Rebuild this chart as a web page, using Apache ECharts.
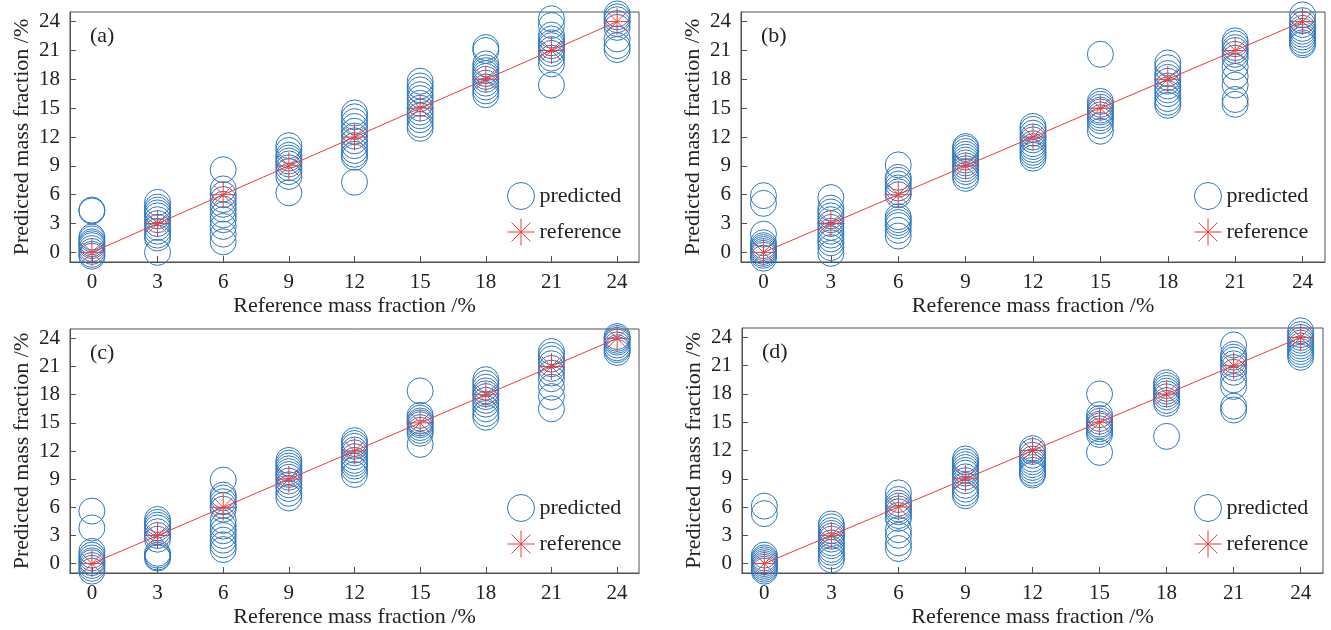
<!DOCTYPE html>
<html>
<head>
<meta charset="utf-8">
<title>Predicted vs reference mass fraction</title>
<script src="https://cdn.jsdelivr.net/npm/echarts@6/dist/echarts.min.js"></script>
<style>
  html, body { margin: 0; padding: 0; background: #fff; }
  #main { width: 1331px; height: 630px; }
</style>
</head>
<body>
<div id="main"></div>
<script>
// reference mass fractions (x) and axis ticks
var xRef = [0, 3, 6, 9, 12, 15, 18, 21, 24];
var tickVals = [0, 3, 6, 9, 12, 15, 18, 21, 24];
var panelNames = ['(a)', '(b)', '(c)', '(d)'];

// predicted values, one list per reference level
var predA = [
    [4.4, 4.3, 1.6, 1.4, 1.1, 0.9, 0.7, 0.4, 0.1, -0.2, -0.4],
    [5.2, 4.7, 4.4, 4.1, 3.8, 3.4, 3.0, 2.6, 2.2, 1.8, 1.5, 0.0],
    [8.6, 6.6, 6.0, 5.5, 5.0, 4.5, 3.9, 3.4, 2.7, 1.9, 1.1],
    [11.1, 10.6, 10.1, 9.8, 9.5, 9.2, 8.8, 8.4, 7.9, 6.2],
    [14.5, 14.1, 13.6, 13.1, 12.6, 12.1, 11.6, 11.1, 10.6, 10.2, 9.9, 7.3],
    [17.8, 17.3, 16.9, 16.4, 16.0, 15.5, 15.0, 14.6, 14.2, 13.8, 13.3, 12.9],
    [21.3, 21.0, 19.6, 19.2, 18.9, 18.6, 18.3, 18.0, 17.6, 17.2, 16.8, 16.4],
    [24.3, 23.6, 22.6, 22.2, 21.8, 21.5, 21.1, 20.7, 20.2, 19.6, 17.4],
    [24.8, 24.5, 24.2, 23.8, 23.4, 22.2, 21.5, 21.1]
];
var predB = [
    [5.9, 5.1, 1.9, 1.0, 0.7, 0.5, 0.3, 0.1, -0.1, -0.3, -0.6],
    [5.7, 4.6, 4.2, 3.8, 3.4, 3.0, 2.6, 2.2, 1.8, 1.4, 1.0, 0.5, -0.1],
    [9.1, 7.8, 7.5, 7.1, 6.7, 6.3, 6.0, 3.7, 3.4, 3.1, 2.8, 2.3, 1.7],
    [11.0, 10.8, 10.5, 10.2, 9.9, 9.6, 9.3, 9.0, 8.7, 8.4, 8.0, 7.7],
    [13.1, 12.8, 12.4, 12.0, 11.7, 11.3, 11.0, 10.7, 10.4, 10.1, 9.8],
    [20.6, 15.7, 15.4, 15.1, 14.8, 14.6, 14.3, 14.0, 13.7, 13.2, 12.6],
    [19.7, 19.2, 18.6, 18.2, 17.8, 17.3, 16.9, 16.5, 16.0, 15.6, 15.3],
    [22.0, 21.7, 21.3, 21.0, 20.6, 20.2, 19.3, 18.3, 17.4, 15.9, 15.4],
    [24.7, 24.1, 23.7, 23.3, 23.0, 22.7, 22.4, 22.1, 21.8, 21.6]
];
var predC = [
    [5.6, 3.8, 1.3, 0.9, 0.6, 0.3, 0.1, -0.2, -0.5, -0.8],
    [4.7, 4.4, 4.1, 3.8, 3.4, 3.0, 2.6, 1.1, 0.9, 0.7, 0.6],
    [8.9, 7.3, 7.0, 6.6, 6.2, 5.8, 4.6, 4.0, 3.5, 3.0, 2.5, 2.0, 1.5],
    [11.0, 10.7, 10.4, 10.1, 9.8, 9.5, 9.2, 8.8, 8.4, 8.0, 7.5, 7.0],
    [13.1, 12.8, 12.5, 12.1, 11.8, 11.4, 11.0, 10.7, 10.4, 10.0, 9.5],
    [18.4, 15.8, 15.5, 15.2, 15.0, 14.8, 14.5, 14.2, 13.9, 12.7],
    [19.6, 19.2, 18.8, 18.4, 18.1, 17.8, 17.4, 17.0, 16.5, 16.0, 15.6],
    [22.6, 22.2, 21.8, 21.3, 20.8, 20.3, 19.7, 18.8, 17.8, 16.5],
    [24.2, 24.0, 23.8, 23.6, 23.3, 23.0, 22.8, 22.5]
];
var predD = [
    [6.1, 5.3, 0.9, 0.6, 0.4, 0.2, 0.0, -0.2, -0.4, -0.6, -0.8],
    [4.2, 3.9, 3.5, 3.2, 2.9, 2.6, 2.2, 1.9, 1.5, 1.2, 0.8, 0.4],
    [7.5, 6.8, 6.4, 6.1, 5.8, 5.5, 5.1, 4.8, 3.6, 3.0, 2.2, 1.6],
    [11.1, 10.8, 10.5, 10.2, 9.9, 9.6, 9.2, 8.8, 8.3, 7.9, 7.5, 7.2],
    [12.2, 11.9, 11.5, 11.1, 10.8, 10.5, 10.2, 9.9, 9.6, 9.4],
    [18.0, 15.8, 15.4, 15.1, 14.8, 14.6, 14.3, 14.0, 13.7, 11.8],
    [19.2, 18.9, 18.6, 18.3, 18.0, 17.7, 17.3, 17.0, 13.5],
    [23.2, 22.2, 21.9, 21.6, 21.2, 20.8, 20.3, 19.5, 18.8, 16.7, 16.3],
    [24.7, 24.3, 24.0, 23.7, 23.4, 23.1, 22.8, 22.5, 22.2, 21.9]
];
var panels = [predA, predB, predC, predD];

var font = 'Liberation Serif';
var blue = '#2c78c2';
var red = '#f23a36';
var star = 'path://M0,-10L0,10M-10,0L10,0M-7.07,-7.07L7.07,7.07M-7.07,7.07L7.07,-7.07';

var grids = [
    { left: 70, top: 12, width: 569, height: 250 },
    { left: 741, top: 12, width: 584, height: 250 },
    { left: 70, top: 329, width: 569, height: 244 },
    { left: 742, top: 328, width: 581, height: 245 }
];
var legendPos = [[502, 177], [1189, 177], [502, 489], [1189, 489]];

var myChart = echarts.init(document.getElementById('main'));
var option = {
    backgroundColor: '#fff',
    animation: false,
    title: [], grid: [], xAxis: [], yAxis: [], legend: [], series: []
};

panels.forEach(function (pred, i) {
    var g = grids[i];
    option.grid.push({
        left: g.left, top: g.top, width: g.width, height: g.height,
        show: true, borderColor: '#505050', borderWidth: 1
    });
    option.title.push({
        text: panelNames[i],
        left: g.left + 15, top: g.top + 8,
        textStyle: { fontFamily: font, fontSize: 22, fontWeight: 'normal', color: '#222' }
    });
    option.xAxis.push({
        type: 'value', gridIndex: i, min: -1, max: 25,
        name: 'Reference mass fraction /%', nameLocation: 'middle', nameGap: 33,
        nameTextStyle: { fontFamily: font, fontSize: 22, color: '#222' },
        axisLine: { onZero: false, lineStyle: { color: '#505050' } },
        axisTick: { inside: true, length: 6, customValues: tickVals, lineStyle: { color: '#505050' } },
        axisLabel: { customValues: tickVals, margin: 10, fontFamily: font, fontSize: 21, color: '#222' },
        splitLine: { show: false }
    });
    option.yAxis.push({
        type: 'value', gridIndex: i, min: -1, max: 25,
        name: 'Predicted mass fraction /%', nameLocation: 'middle', nameGap: 37,
        nameTextStyle: { fontFamily: font, fontSize: 22, color: '#222' },
        axisLine: { onZero: false, lineStyle: { color: '#505050' } },
        axisTick: { inside: true, length: 6, customValues: tickVals, lineStyle: { color: '#505050' } },
        axisLabel: { customValues: tickVals, margin: 10, fontFamily: font, fontSize: 21, color: '#222' },
        splitLine: { show: false }
    });
    option.legend.push({
        orient: 'vertical', left: legendPos[i][0], top: legendPos[i][1],
        itemWidth: 27, itemHeight: 27, itemGap: 8,
        textStyle: { fontFamily: font, fontSize: 22, color: '#222' },
        data: [
            { name: 'predicted', icon: 'circle',
              itemStyle: { color: 'transparent', borderColor: blue, borderWidth: 1 } },
            { name: 'reference', icon: star,
              itemStyle: { color: 'transparent', borderColor: red, borderWidth: 1 } }
        ]
    });

    var pts = [];
    xRef.forEach(function (x, k) {
        pred[k].forEach(function (y) { pts.push([x, y]); });
    });
    option.series.push({
        name: 'predicted', type: 'scatter', xAxisIndex: i, yAxisIndex: i,
        symbol: 'circle', symbolSize: 26, clip: false, data: pts,
        itemStyle: { color: 'transparent', borderColor: blue, borderWidth: 1, opacity: 1 }
    });
    option.series.push({
        name: 'ideal', type: 'line', xAxisIndex: i, yAxisIndex: i,
        symbol: 'none', silent: true,
        data: xRef.map(function (x) { return [x, x]; }),
        lineStyle: { color: red, width: 1 }
    });
    option.series.push({
        name: 'reference', type: 'scatter', xAxisIndex: i, yAxisIndex: i,
        symbol: star, symbolSize: 27, clip: false,
        data: xRef.map(function (x) { return [x, x]; }),
        itemStyle: { color: 'transparent', borderColor: red, borderWidth: 1, opacity: 1 }
    });
});

myChart.setOption(option);
</script>
</body>
</html>
